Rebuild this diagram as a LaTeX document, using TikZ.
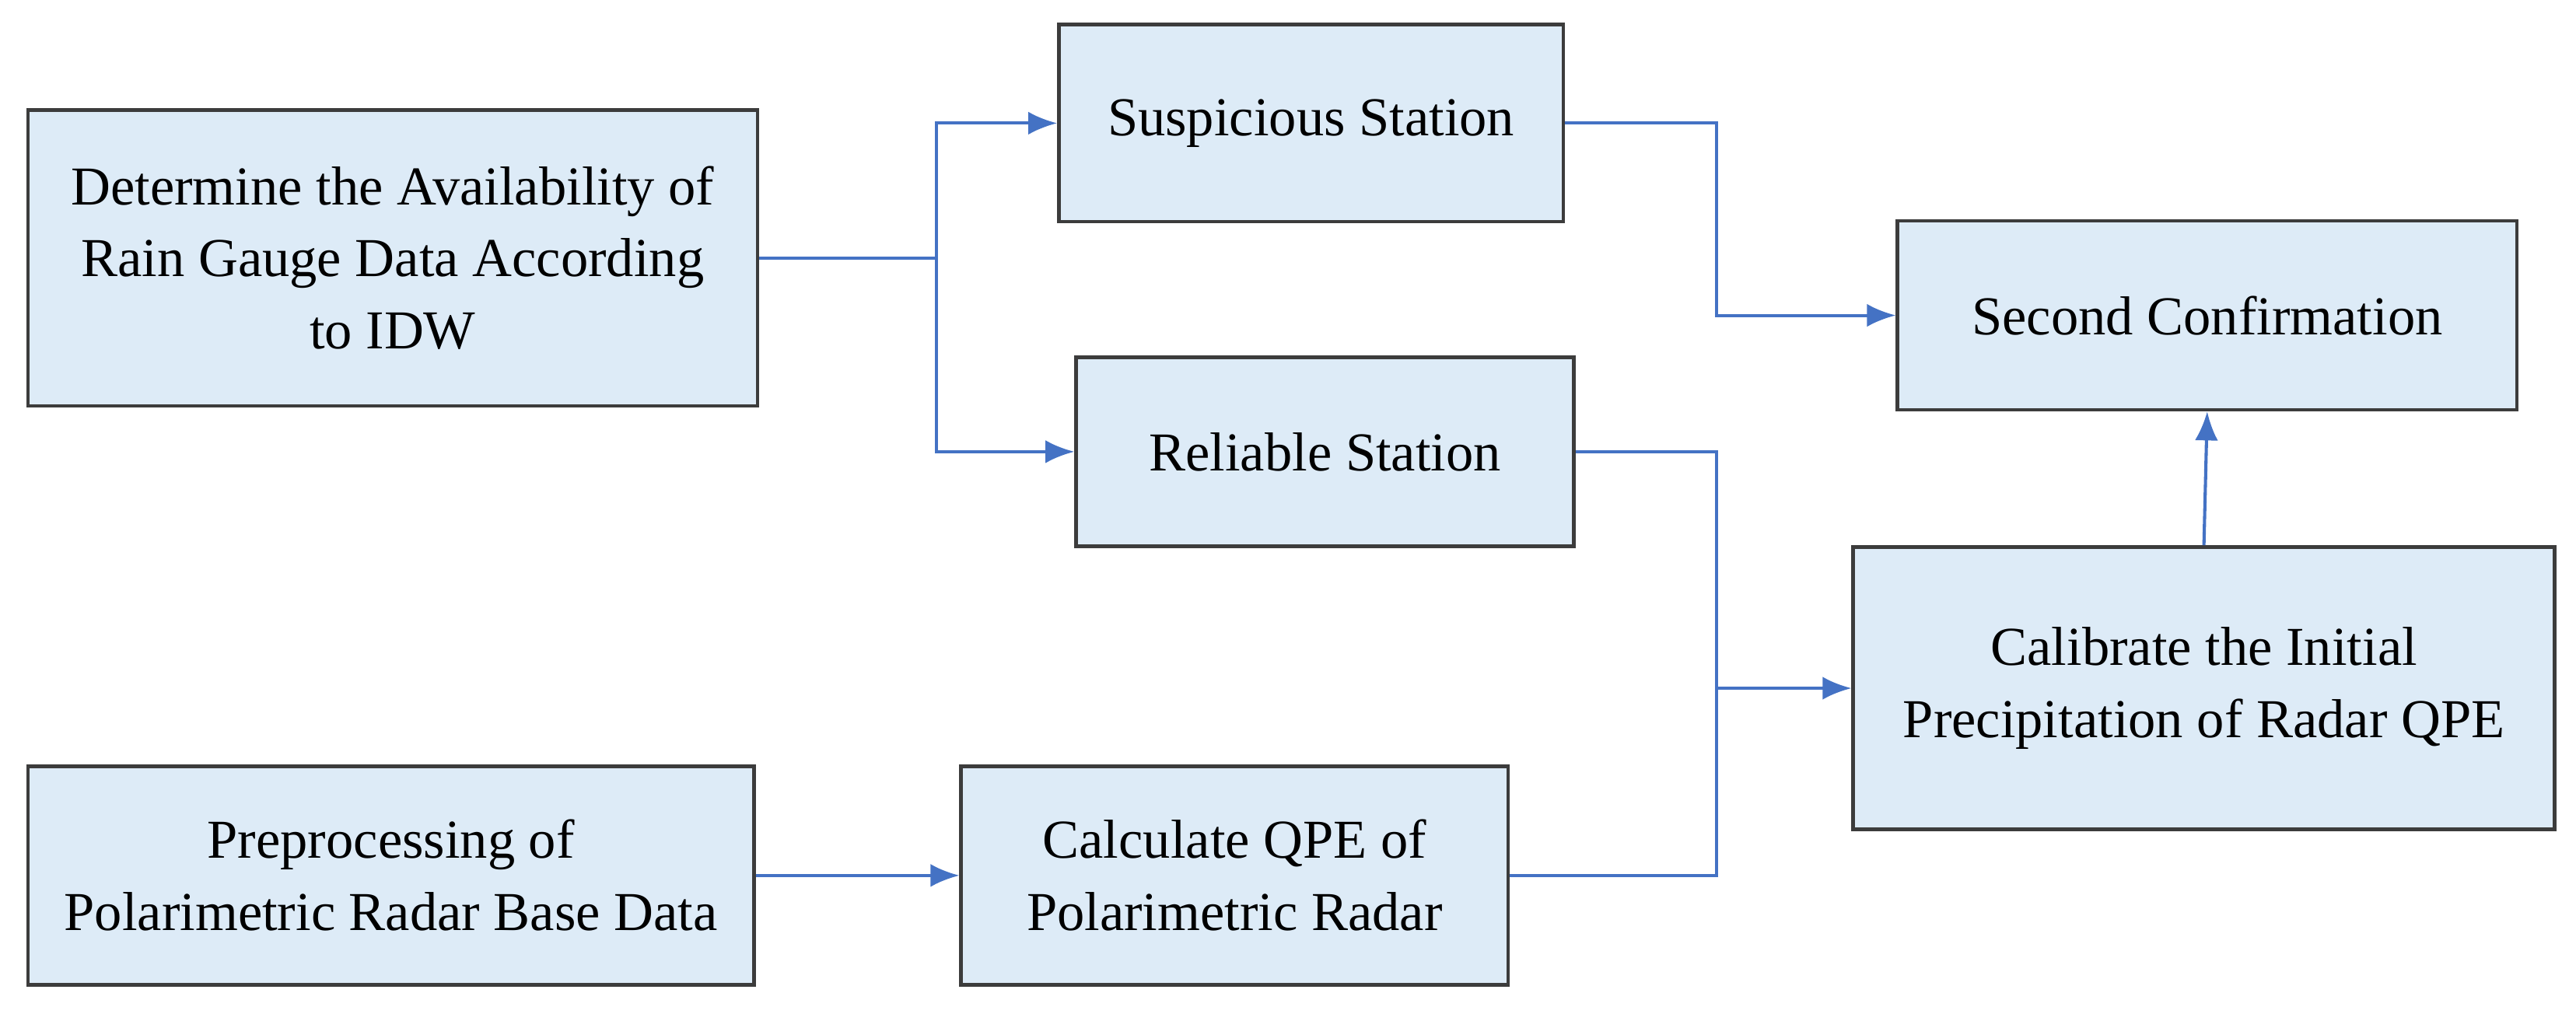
\documentclass[tikz,border=0pt]{standalone}
\usepackage{fontspec}
\setmainfont{Liberation Serif}
\usetikzlibrary{arrows.meta}
\definecolor{boxfill}{RGB}{221,235,247}
\definecolor{boxline}{RGB}{60,60,60}
\definecolor{flow}{RGB}{68,114,196}
\tikzset{
  stage/.style={draw=boxline, fill=boxfill, line width=1.2pt, align=center,
    font=\fontsize{19}{25}\selectfont, inner sep=0pt},
  link/.style={draw=flow, line width=1.1pt},
  linkarrow/.style={link, -{Latex[length=10pt,width=8pt]}}
}
\begin{document}
\begin{tikzpicture}
  \useasboundingbox[fill=white] (0,0) rectangle (31.36,12.34);

  \node[stage, minimum width=8.88cm, minimum height=3.6cm] (avail) at (4.78,9.2)
    {Determine the Availability of\\Rain Gauge Data According\\to IDW};
  \node[stage, minimum width=6.14cm, minimum height=2.4cm] (susp) at (15.96,10.84)
    {Suspicious Station};
  \node[stage, minimum width=6.06cm, minimum height=2.3cm] (rel) at (16.13,6.84)
    {Reliable Station};
  \node[stage, minimum width=7.54cm, minimum height=2.3cm] (second) at (26.87,8.5)
    {Second Confirmation};
  \node[stage, minimum width=8.54cm, minimum height=3.44cm] (calib) at (26.83,3.96)
    {Calibrate the Initial\\Precipitation of Radar QPE};
  \node[stage, minimum width=8.84cm, minimum height=2.66cm] (prep) at (4.76,1.68)
    {Preprocessing of\\Polarimetric Radar Base Data};
  \node[stage, minimum width=6.66cm, minimum height=2.66cm] (qpe) at (15.03,1.68)
    {Calculate QPE of\\Polarimetric Radar};

  \coordinate (split) at (11.4,9.2);
  \coordinate (merge) at (20.9,3.96);

  % split of the gauge check
  \draw[link] (avail.east) -- (split);
  \draw[linkarrow] (split) |- (susp.west);
  \draw[linkarrow] (split) |- (rel.west);

  % towards the confirmation
  \draw[linkarrow] (susp.east) -| (20.9,8.5) -- (second.west);
  \draw[linkarrow] (calib.north) -- (second.south);

  % radar branch
  \draw[linkarrow] (prep.east) -- (qpe.west);
  \draw[link] (rel.east) -| (merge);
  \draw[link] (qpe.east) -| (merge);
  \draw[linkarrow] (merge) -- (calib.west);
\end{tikzpicture}
\end{document}
